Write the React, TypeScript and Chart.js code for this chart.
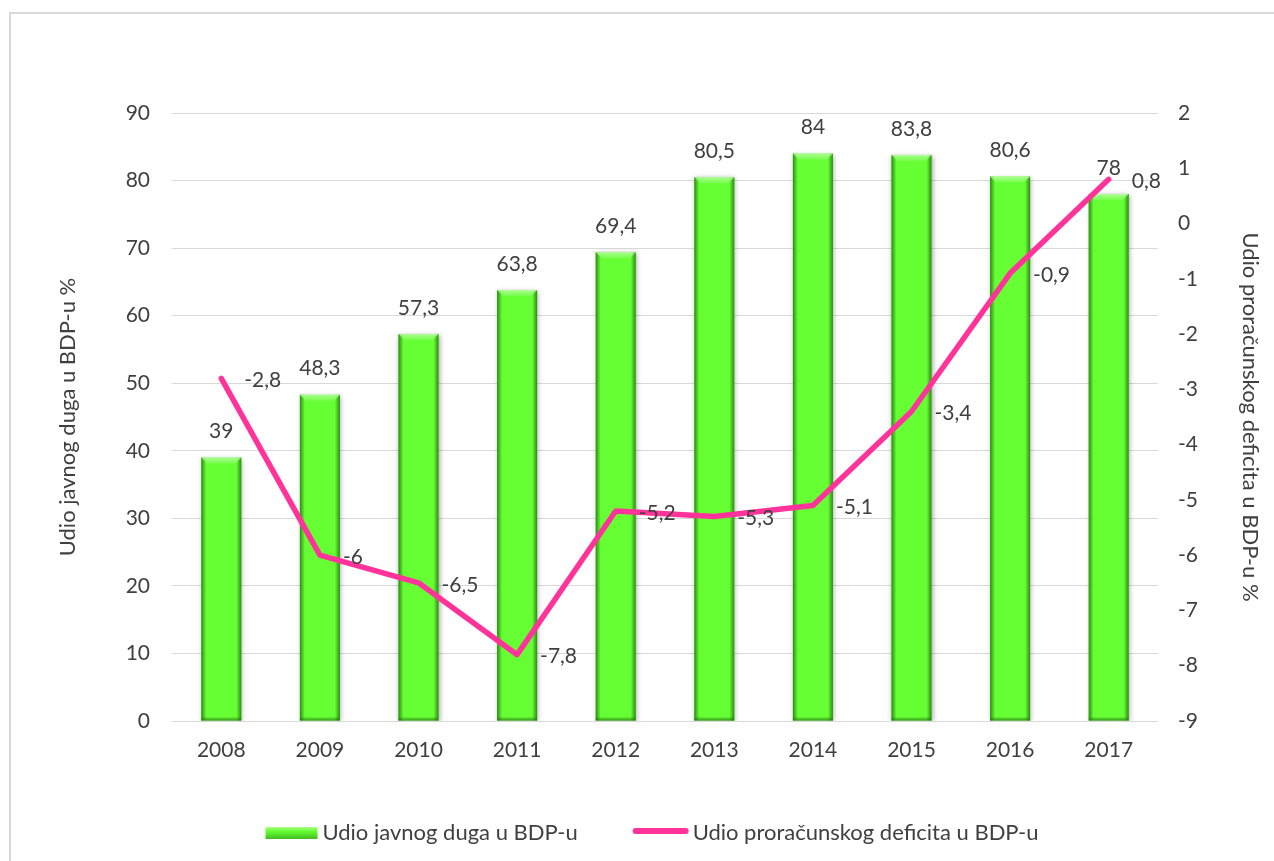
import React, { useEffect, useRef } from 'react';
import { Chart, registerables } from 'chart.js';

Chart.register(...registerables);

const years = ['2008', '2009', '2010', '2011', '2012', '2013', '2014', '2015', '2016', '2017'];
const debtShare = [39, 48.3, 57.3, 63.8, 69.4, 80.5, 84, 83.8, 80.6, 78];
const deficitShare = [-2.8, -6, -6.5, -7.8, -5.2, -5.3, -5.1, -3.4, -0.9, 0.8];
const debtLabel = 'Udio javnog duga u BDP-u';
const deficitLabel = 'Udio proračunskog deficita u BDP-u';
const leftAxisTitle = 'Udio javnog duga u BDP-u %';
const rightAxisTitle = 'Udio proračunskog deficita u BDP-u %';
const leftRange = { min: 0, max: 90, step: 10 };
const rightRange = { min: -9, max: 2, step: 1 };

const FONT = 'Lato';
const FS = 21;
const FS_BIG = 22;
const TEXT = '#404040';
const GREEN = '#66ff33';
const PINK = '#ff3399';
const GRID = '#d9d9d9';

const fmt = (v: number) => String(v).replace('.', ',');

const effectsPlugin = {
  id: 'effects',
  beforeDatasetDraw(chart: any, args: any) {
    if (args.index !== 0) return;
    const ctx = chart.ctx;
    ctx.save();
    ctx.shadowColor = 'rgba(0,0,0,0.35)';
    ctx.shadowBlur = 5;
    ctx.shadowOffsetX = 1;
    ctx.shadowOffsetY = 1;
  },
  afterDatasetDraw(chart: any, args: any) {
    if (args.index !== 0) return;
    const ctx = chart.ctx;
    ctx.restore();
    const meta = chart.getDatasetMeta(0);
    meta.data.forEach((el: any) => {
      const { x, y, width, base } = el.getProps(['x', 'y', 'width', 'base'], true);
      const l = x - width / 2;
      const r = x + width / 2;
      const h = base - y;
      ctx.save();
      let g = ctx.createLinearGradient(l, 0, l + 5, 0);
      g.addColorStop(0, 'rgba(30,110,10,0.8)');
      g.addColorStop(1, 'rgba(30,110,10,0)');
      ctx.fillStyle = g;
      ctx.fillRect(l, y, 5, h);
      g = ctx.createLinearGradient(r, 0, r - 5, 0);
      g.addColorStop(0, 'rgba(30,110,10,0.8)');
      g.addColorStop(1, 'rgba(30,110,10,0)');
      ctx.fillStyle = g;
      ctx.fillRect(r - 5, y, 5, h);
      g = ctx.createLinearGradient(0, base, 0, base - 4);
      g.addColorStop(0, 'rgba(30,110,10,0.7)');
      g.addColorStop(1, 'rgba(30,110,10,0)');
      ctx.fillStyle = g;
      ctx.fillRect(l, base - 4, width, 4);
      const bv = Math.min(6, h);
      ctx.beginPath();
      ctx.moveTo(l, y);
      ctx.lineTo(r, y);
      ctx.lineTo(r - bv, y + bv);
      ctx.lineTo(l + bv, y + bv);
      ctx.closePath();
      g = ctx.createLinearGradient(0, y, 0, y + bv);
      g.addColorStop(0, 'rgba(190,255,170,0.85)');
      g.addColorStop(1, 'rgba(150,255,120,0.4)');
      ctx.fillStyle = g;
      ctx.fill();
      ctx.restore();
    });
  },
  afterDatasetsDraw(chart: any) {
    const ctx = chart.ctx;
    ctx.save();
    ctx.font = `${FS}px ${FONT}`;
    ctx.fillStyle = TEXT;
    ctx.textBaseline = 'middle';
    const bars = chart.getDatasetMeta(0).data;
    ctx.textAlign = 'center';
    bars.forEach((el: any, i: number) => {
      ctx.fillText(fmt(debtShare[i]), el.x, el.y - 26);
    });
    const pts = chart.getDatasetMeta(1).data;
    ctx.textAlign = 'left';
    pts.forEach((el: any, i: number) => {
      ctx.fillText(fmt(deficitShare[i]), el.x + 23, el.y + 2);
    });
    ctx.restore();
  },
  afterDraw(chart: any) {
    const ctx = chart.ctx;
    ctx.save();
    ctx.font = `${FS_BIG}px ${FONT}`;
    ctx.textBaseline = 'middle';
    ctx.textAlign = 'left';
    const boxW = 52;
    const lineW = 56;
    const w1 = ctx.measureText(debtLabel).width;
    const w2 = ctx.measureText(deficitLabel).width;
    const total = boxW + 5 + w1 + 55 + lineW + 4 + w2;
    let x = 652 - total / 2;
    const cy = 833;
    const g = ctx.createLinearGradient(0, cy - 6, 0, cy + 6);
    g.addColorStop(0, '#aaff88');
    g.addColorStop(0.35, GREEN);
    g.addColorStop(1, '#44bb22');
    ctx.fillStyle = g;
    ctx.fillRect(x, cy - 6, boxW, 12);
    ctx.fillStyle = TEXT;
    ctx.fillText(debtLabel, x + boxW + 5, cy);
    x += boxW + 5 + w1 + 55;
    ctx.strokeStyle = PINK;
    ctx.lineWidth = 6;
    ctx.lineCap = 'round';
    ctx.beginPath();
    ctx.moveTo(x + 3, cy - 2);
    ctx.lineTo(x + lineW - 3, cy - 2);
    ctx.stroke();
    ctx.fillStyle = TEXT;
    ctx.fillText(deficitLabel, x + lineW + 4, cy);
    ctx.restore();
  },
};

export default function App() {
  const ref = useRef<HTMLCanvasElement | null>(null);
  useEffect(() => {
    if (!ref.current) return;
    const chart = new Chart(ref.current, {
      type: 'bar',
      data: {
        labels: years,
        datasets: [
          {
            type: 'bar',
            label: debtLabel,
            data: debtShare,
            yAxisID: 'y',
            backgroundColor: GREEN,
            borderWidth: 0,
            barPercentage: 0.406,
            categoryPercentage: 1,
            order: 2,
          } as any,
          {
            type: 'line',
            label: deficitLabel,
            data: deficitShare,
            yAxisID: 'y1',
            borderColor: PINK,
            backgroundColor: PINK,
            borderWidth: 5.5,
            pointRadius: 0,
            borderCapStyle: 'round',
            borderJoinStyle: 'round',
            tension: 0,
            order: 1,
          } as any,
        ],
      },
      options: {
        animation: false,
        responsive: false,
        maintainAspectRatio: false,
        devicePixelRatio: 1,
        layout: { padding: { top: 113, left: 0, right: 0, bottom: 0 } },
        plugins: { legend: { display: false }, tooltip: { enabled: false } },
        scales: {
          x: {
            grid: { display: false, drawTicks: false },
            border: { display: false },
            ticks: { font: { family: FONT, size: FS }, color: TEXT, padding: 17 },
            afterFit: (s: any) => {
              s.height = 140;
            },
          },
          y: {
            position: 'left',
            min: leftRange.min,
            max: leftRange.max,
            ticks: { stepSize: leftRange.step, font: { family: FONT, size: FS }, color: TEXT, padding: 22 },
            grid: { color: GRID, lineWidth: 1, drawTicks: false },
            border: { display: false },
            title: {
              display: true,
              text: leftAxisTitle,
              font: { family: FONT, size: FS_BIG },
              color: TEXT,
              padding: { top: 55, bottom: 0 },
            },
            afterFit: (s: any) => {
              s.width = 172;
            },
          },
          y1: {
            position: 'right',
            min: rightRange.min,
            max: rightRange.max,
            ticks: { stepSize: rightRange.step, font: { family: FONT, size: FS }, color: TEXT, padding: 20 },
            grid: { display: false, drawTicks: false },
            border: { display: false },
            title: {
              display: true,
              text: rightAxisTitle,
              font: { family: FONT, size: FS_BIG },
              color: TEXT,
              padding: { top: 11, bottom: 0 },
            },
            afterFit: (s: any) => {
              s.width = 116;
            },
          },
        },
      } as any,
      plugins: [effectsPlugin],
    });
    return () => chart.destroy();
  }, []);

  return (
    <div style={{ position: 'fixed', left: 0, top: 0, width: 1274, height: 861, overflow: 'hidden', background: '#fff' }}>
      <div
        style={{
          position: 'absolute',
          left: 9,
          top: 12,
          width: 1300,
          height: 900,
          border: '2px solid #d9d9d9',
          pointerEvents: 'none',
        }}
      />
      <canvas ref={ref} width={1274} height={861} style={{ position: 'absolute', left: 0, top: 0, width: 1274, height: 861 }} />
    </div>
  );
}
